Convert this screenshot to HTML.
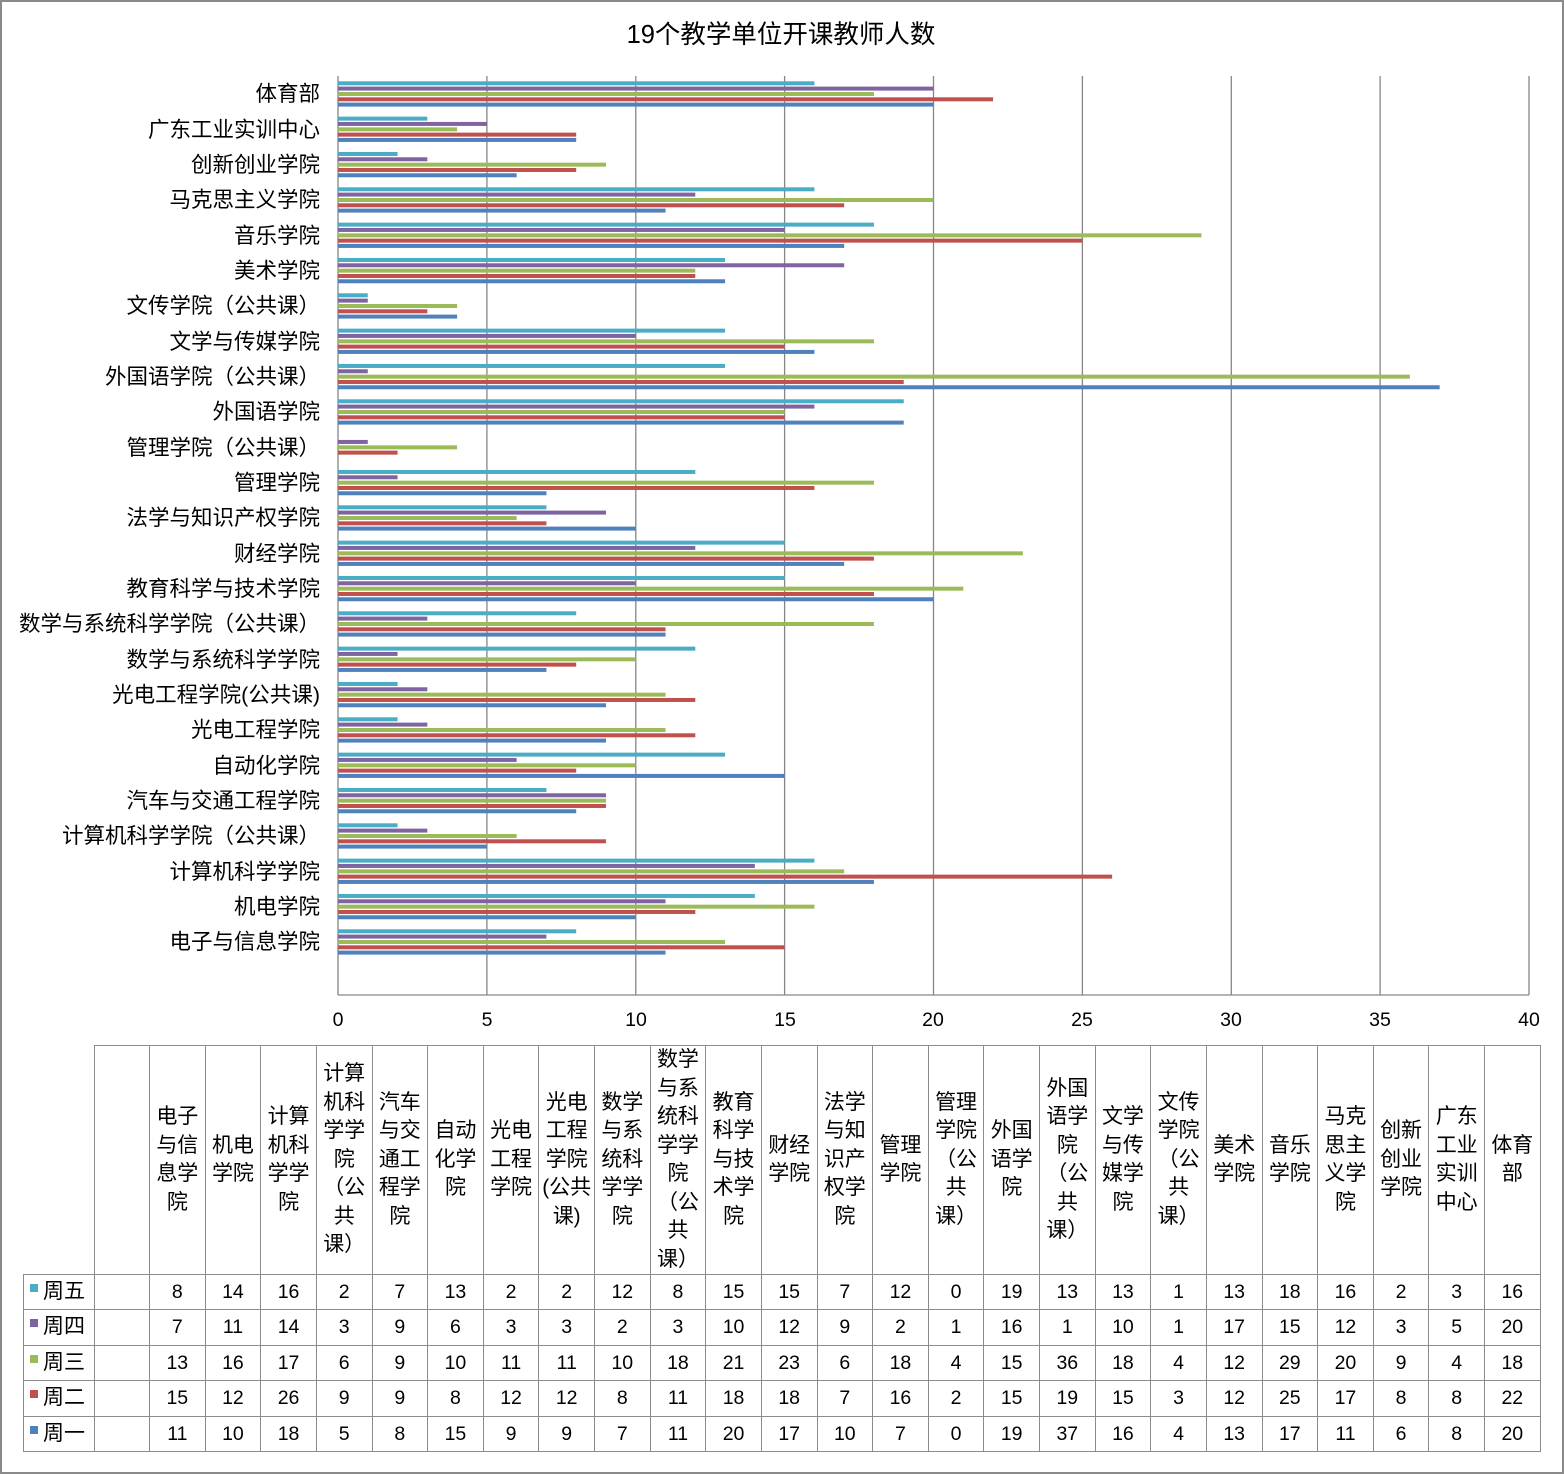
<!DOCTYPE html>
<html><head><meta charset="utf-8"><style>
html,body{margin:0;padding:0;background:#fff}
#wrap{position:relative;width:1564px;height:1474px;box-sizing:border-box;border:2px solid #8a8a8a;overflow:hidden;font-family:"Liberation Sans","Noto Sans CJK SC",sans-serif;color:#000}
svg{position:absolute;left:-2px;top:-2px}
table{position:absolute;left:21px;top:1043px;border-collapse:collapse;table-layout:fixed;width:1517px}
td{border:1px solid #8c8c8c;padding:0;text-align:center;font-size:19.5px;line-height:28.5px;height:34.4px;white-space:nowrap;overflow:hidden}
tr.h td{height:227px;font-size:21px}
td.lg{text-align:left;font-size:21px;padding-left:6px}
td.lg i{display:inline-block;width:8px;height:8px;margin-right:5px;vertical-align:6px}
</style></head><body><div id="wrap">
<svg width="1564" height="1474" xmlns="http://www.w3.org/2000/svg" font-family="Liberation Sans, Noto Sans CJK SC, sans-serif">
<text x="781" y="43" font-size="25.5" text-anchor="middle">19个教学单位开课教师人数</text>
<g stroke="#868686" stroke-width="1.3">
<line x1="486.9" y1="76" x2="486.9" y2="995"/><line x1="635.8" y1="76" x2="635.8" y2="995"/><line x1="784.6" y1="76" x2="784.6" y2="995"/><line x1="933.5" y1="76" x2="933.5" y2="995"/><line x1="1082.4" y1="76" x2="1082.4" y2="995"/><line x1="1231.3" y1="76" x2="1231.3" y2="995"/><line x1="1380.1" y1="76" x2="1380.1" y2="995"/><line x1="1529" y1="76" x2="1529" y2="995"/>
<line x1="338" y1="76" x2="338" y2="995"/><line x1="338" y1="995" x2="1529" y2="995"/>
</g>
<g font-size="19.5" text-anchor="middle">
<text x="338" y="1026">0</text><text x="487" y="1026">5</text><text x="636" y="1026">10</text><text x="785" y="1026">15</text><text x="933" y="1026">20</text><text x="1082" y="1026">25</text><text x="1231" y="1026">30</text><text x="1380" y="1026">35</text><text x="1529" y="1026">40</text>
</g>
<g font-size="21.5" text-anchor="end">
<text x="320" y="101">体育部</text>
<text x="320" y="137">广东工业实训中心</text>
<text x="320" y="172">创新创业学院</text>
<text x="320" y="207">马克思主义学院</text>
<text x="320" y="243">音乐学院</text>
<text x="320" y="278">美术学院</text>
<text x="320" y="313">文传学院（公共课）</text>
<text x="320" y="349">文学与传媒学院</text>
<text x="320" y="384">外国语学院（公共课）</text>
<text x="320" y="419">外国语学院</text>
<text x="320" y="455">管理学院（公共课）</text>
<text x="320" y="490">管理学院</text>
<text x="320" y="525">法学与知识产权学院</text>
<text x="320" y="561">财经学院</text>
<text x="320" y="596">教育科学与技术学院</text>
<text x="320" y="631">数学与系统科学学院（公共课）</text>
<text x="320" y="667">数学与系统科学学院</text>
<text x="320" y="702">光电工程学院(公共课)</text>
<text x="320" y="737">光电工程学院</text>
<text x="320" y="773">自动化学院</text>
<text x="320" y="808">汽车与交通工程学院</text>
<text x="320" y="843">计算机科学学院（公共课）</text>
<text x="320" y="879">计算机科学学院</text>
<text x="320" y="914">机电学院</text>
<text x="320" y="949">电子与信息学院</text>
</g>
<g id="bars">
<g transform="translate(338,76) scale(29.775 1)"><rect y="5.3" width="16" height="4" fill="#4bacc6"/><rect y="10.6" width="20" height="4" fill="#8064a2"/><rect y="16" width="18" height="4" fill="#9bbb59"/><rect y="21.3" width="22" height="4" fill="#c0504d"/><rect y="26.6" width="20" height="4" fill="#4f81bd"/></g>
<g transform="translate(338,111.33) scale(29.775 1)"><rect y="5.3" width="3" height="4" fill="#4bacc6"/><rect y="10.6" width="5" height="4" fill="#8064a2"/><rect y="16" width="4" height="4" fill="#9bbb59"/><rect y="21.3" width="8" height="4" fill="#c0504d"/><rect y="26.6" width="8" height="4" fill="#4f81bd"/></g>
<g transform="translate(338,146.67) scale(29.775 1)"><rect y="5.3" width="2" height="4" fill="#4bacc6"/><rect y="10.6" width="3" height="4" fill="#8064a2"/><rect y="16" width="9" height="4" fill="#9bbb59"/><rect y="21.3" width="8" height="4" fill="#c0504d"/><rect y="26.6" width="6" height="4" fill="#4f81bd"/></g>
<g transform="translate(338,182) scale(29.775 1)"><rect y="5.3" width="16" height="4" fill="#4bacc6"/><rect y="10.6" width="12" height="4" fill="#8064a2"/><rect y="16" width="20" height="4" fill="#9bbb59"/><rect y="21.3" width="17" height="4" fill="#c0504d"/><rect y="26.6" width="11" height="4" fill="#4f81bd"/></g>
<g transform="translate(338,217.33) scale(29.775 1)"><rect y="5.3" width="18" height="4" fill="#4bacc6"/><rect y="10.6" width="15" height="4" fill="#8064a2"/><rect y="16" width="29" height="4" fill="#9bbb59"/><rect y="21.3" width="25" height="4" fill="#c0504d"/><rect y="26.6" width="17" height="4" fill="#4f81bd"/></g>
<g transform="translate(338,252.67) scale(29.775 1)"><rect y="5.3" width="13" height="4" fill="#4bacc6"/><rect y="10.6" width="17" height="4" fill="#8064a2"/><rect y="16" width="12" height="4" fill="#9bbb59"/><rect y="21.3" width="12" height="4" fill="#c0504d"/><rect y="26.6" width="13" height="4" fill="#4f81bd"/></g>
<g transform="translate(338,288) scale(29.775 1)"><rect y="5.3" width="1" height="4" fill="#4bacc6"/><rect y="10.6" width="1" height="4" fill="#8064a2"/><rect y="16" width="4" height="4" fill="#9bbb59"/><rect y="21.3" width="3" height="4" fill="#c0504d"/><rect y="26.6" width="4" height="4" fill="#4f81bd"/></g>
<g transform="translate(338,323.33) scale(29.775 1)"><rect y="5.3" width="13" height="4" fill="#4bacc6"/><rect y="10.6" width="10" height="4" fill="#8064a2"/><rect y="16" width="18" height="4" fill="#9bbb59"/><rect y="21.3" width="15" height="4" fill="#c0504d"/><rect y="26.6" width="16" height="4" fill="#4f81bd"/></g>
<g transform="translate(338,358.67) scale(29.775 1)"><rect y="5.3" width="13" height="4" fill="#4bacc6"/><rect y="10.6" width="1" height="4" fill="#8064a2"/><rect y="16" width="36" height="4" fill="#9bbb59"/><rect y="21.3" width="19" height="4" fill="#c0504d"/><rect y="26.6" width="37" height="4" fill="#4f81bd"/></g>
<g transform="translate(338,394) scale(29.775 1)"><rect y="5.3" width="19" height="4" fill="#4bacc6"/><rect y="10.6" width="16" height="4" fill="#8064a2"/><rect y="16" width="15" height="4" fill="#9bbb59"/><rect y="21.3" width="15" height="4" fill="#c0504d"/><rect y="26.6" width="19" height="4" fill="#4f81bd"/></g>
<g transform="translate(338,429.33) scale(29.775 1)"><rect y="10.6" width="1" height="4" fill="#8064a2"/><rect y="16" width="4" height="4" fill="#9bbb59"/><rect y="21.3" width="2" height="4" fill="#c0504d"/></g>
<g transform="translate(338,464.67) scale(29.775 1)"><rect y="5.3" width="12" height="4" fill="#4bacc6"/><rect y="10.6" width="2" height="4" fill="#8064a2"/><rect y="16" width="18" height="4" fill="#9bbb59"/><rect y="21.3" width="16" height="4" fill="#c0504d"/><rect y="26.6" width="7" height="4" fill="#4f81bd"/></g>
<g transform="translate(338,500) scale(29.775 1)"><rect y="5.3" width="7" height="4" fill="#4bacc6"/><rect y="10.6" width="9" height="4" fill="#8064a2"/><rect y="16" width="6" height="4" fill="#9bbb59"/><rect y="21.3" width="7" height="4" fill="#c0504d"/><rect y="26.6" width="10" height="4" fill="#4f81bd"/></g>
<g transform="translate(338,535.33) scale(29.775 1)"><rect y="5.3" width="15" height="4" fill="#4bacc6"/><rect y="10.6" width="12" height="4" fill="#8064a2"/><rect y="16" width="23" height="4" fill="#9bbb59"/><rect y="21.3" width="18" height="4" fill="#c0504d"/><rect y="26.6" width="17" height="4" fill="#4f81bd"/></g>
<g transform="translate(338,570.67) scale(29.775 1)"><rect y="5.3" width="15" height="4" fill="#4bacc6"/><rect y="10.6" width="10" height="4" fill="#8064a2"/><rect y="16" width="21" height="4" fill="#9bbb59"/><rect y="21.3" width="18" height="4" fill="#c0504d"/><rect y="26.6" width="20" height="4" fill="#4f81bd"/></g>
<g transform="translate(338,606) scale(29.775 1)"><rect y="5.3" width="8" height="4" fill="#4bacc6"/><rect y="10.6" width="3" height="4" fill="#8064a2"/><rect y="16" width="18" height="4" fill="#9bbb59"/><rect y="21.3" width="11" height="4" fill="#c0504d"/><rect y="26.6" width="11" height="4" fill="#4f81bd"/></g>
<g transform="translate(338,641.33) scale(29.775 1)"><rect y="5.3" width="12" height="4" fill="#4bacc6"/><rect y="10.6" width="2" height="4" fill="#8064a2"/><rect y="16" width="10" height="4" fill="#9bbb59"/><rect y="21.3" width="8" height="4" fill="#c0504d"/><rect y="26.6" width="7" height="4" fill="#4f81bd"/></g>
<g transform="translate(338,676.67) scale(29.775 1)"><rect y="5.3" width="2" height="4" fill="#4bacc6"/><rect y="10.6" width="3" height="4" fill="#8064a2"/><rect y="16" width="11" height="4" fill="#9bbb59"/><rect y="21.3" width="12" height="4" fill="#c0504d"/><rect y="26.6" width="9" height="4" fill="#4f81bd"/></g>
<g transform="translate(338,712) scale(29.775 1)"><rect y="5.3" width="2" height="4" fill="#4bacc6"/><rect y="10.6" width="3" height="4" fill="#8064a2"/><rect y="16" width="11" height="4" fill="#9bbb59"/><rect y="21.3" width="12" height="4" fill="#c0504d"/><rect y="26.6" width="9" height="4" fill="#4f81bd"/></g>
<g transform="translate(338,747.33) scale(29.775 1)"><rect y="5.3" width="13" height="4" fill="#4bacc6"/><rect y="10.6" width="6" height="4" fill="#8064a2"/><rect y="16" width="10" height="4" fill="#9bbb59"/><rect y="21.3" width="8" height="4" fill="#c0504d"/><rect y="26.6" width="15" height="4" fill="#4f81bd"/></g>
<g transform="translate(338,782.67) scale(29.775 1)"><rect y="5.3" width="7" height="4" fill="#4bacc6"/><rect y="10.6" width="9" height="4" fill="#8064a2"/><rect y="16" width="9" height="4" fill="#9bbb59"/><rect y="21.3" width="9" height="4" fill="#c0504d"/><rect y="26.6" width="8" height="4" fill="#4f81bd"/></g>
<g transform="translate(338,818) scale(29.775 1)"><rect y="5.3" width="2" height="4" fill="#4bacc6"/><rect y="10.6" width="3" height="4" fill="#8064a2"/><rect y="16" width="6" height="4" fill="#9bbb59"/><rect y="21.3" width="9" height="4" fill="#c0504d"/><rect y="26.6" width="5" height="4" fill="#4f81bd"/></g>
<g transform="translate(338,853.33) scale(29.775 1)"><rect y="5.3" width="16" height="4" fill="#4bacc6"/><rect y="10.6" width="14" height="4" fill="#8064a2"/><rect y="16" width="17" height="4" fill="#9bbb59"/><rect y="21.3" width="26" height="4" fill="#c0504d"/><rect y="26.6" width="18" height="4" fill="#4f81bd"/></g>
<g transform="translate(338,888.67) scale(29.775 1)"><rect y="5.3" width="14" height="4" fill="#4bacc6"/><rect y="10.6" width="11" height="4" fill="#8064a2"/><rect y="16" width="16" height="4" fill="#9bbb59"/><rect y="21.3" width="12" height="4" fill="#c0504d"/><rect y="26.6" width="10" height="4" fill="#4f81bd"/></g>
<g transform="translate(338,924) scale(29.775 1)"><rect y="5.3" width="8" height="4" fill="#4bacc6"/><rect y="10.6" width="7" height="4" fill="#8064a2"/><rect y="16" width="13" height="4" fill="#9bbb59"/><rect y="21.3" width="15" height="4" fill="#c0504d"/><rect y="26.6" width="11" height="4" fill="#4f81bd"/></g>
</g>
</svg>
<table>
<colgroup><col style="width:71px"><col style="width:55px"><col span="25" style="width:55.64px"></colgroup>
<tr class="h"><td style="border-top:none;border-left:none"></td><td></td>
<td>电子<br>与信<br>息学<br>院</td><td>机电<br>学院</td><td>计算<br>机科<br>学学<br>院</td><td>计算<br>机科<br>学学<br>院<br>（公<br>共<br>课）</td><td>汽车<br>与交<br>通工<br>程学<br>院</td><td>自动<br>化学<br>院</td><td>光电<br>工程<br>学院</td><td>光电<br>工程<br>学院<br>(公共<br>课)</td><td>数学<br>与系<br>统科<br>学学<br>院</td><td>数学<br>与系<br>统科<br>学学<br>院<br>（公<br>共<br>课）</td><td>教育<br>科学<br>与技<br>术学<br>院</td><td>财经<br>学院</td><td>法学<br>与知<br>识产<br>权学<br>院</td><td>管理<br>学院</td><td>管理<br>学院<br>（公<br>共<br>课）</td><td>外国<br>语学<br>院</td><td>外国<br>语学<br>院<br>（公<br>共<br>课）</td><td>文学<br>与传<br>媒学<br>院</td><td>文传<br>学院<br>（公<br>共<br>课）</td><td>美术<br>学院</td><td>音乐<br>学院</td><td>马克<br>思主<br>义学<br>院</td><td>创新<br>创业<br>学院</td><td>广东<br>工业<br>实训<br>中心</td><td>体育<br>部</td></tr>
<tr><td class="lg"><i style="background:#4bacc6"></i>周五</td><td></td><td>8</td><td>14</td><td>16</td><td>2</td><td>7</td><td>13</td><td>2</td><td>2</td><td>12</td><td>8</td><td>15</td><td>15</td><td>7</td><td>12</td><td>0</td><td>19</td><td>13</td><td>13</td><td>1</td><td>13</td><td>18</td><td>16</td><td>2</td><td>3</td><td>16</td></tr>
<tr><td class="lg"><i style="background:#8064a2"></i>周四</td><td></td><td>7</td><td>11</td><td>14</td><td>3</td><td>9</td><td>6</td><td>3</td><td>3</td><td>2</td><td>3</td><td>10</td><td>12</td><td>9</td><td>2</td><td>1</td><td>16</td><td>1</td><td>10</td><td>1</td><td>17</td><td>15</td><td>12</td><td>3</td><td>5</td><td>20</td></tr>
<tr><td class="lg"><i style="background:#9bbb59"></i>周三</td><td></td><td>13</td><td>16</td><td>17</td><td>6</td><td>9</td><td>10</td><td>11</td><td>11</td><td>10</td><td>18</td><td>21</td><td>23</td><td>6</td><td>18</td><td>4</td><td>15</td><td>36</td><td>18</td><td>4</td><td>12</td><td>29</td><td>20</td><td>9</td><td>4</td><td>18</td></tr>
<tr><td class="lg"><i style="background:#c0504d"></i>周二</td><td></td><td>15</td><td>12</td><td>26</td><td>9</td><td>9</td><td>8</td><td>12</td><td>12</td><td>8</td><td>11</td><td>18</td><td>18</td><td>7</td><td>16</td><td>2</td><td>15</td><td>19</td><td>15</td><td>3</td><td>12</td><td>25</td><td>17</td><td>8</td><td>8</td><td>22</td></tr>
<tr><td class="lg"><i style="background:#4f81bd"></i>周一</td><td></td><td>11</td><td>10</td><td>18</td><td>5</td><td>8</td><td>15</td><td>9</td><td>9</td><td>7</td><td>11</td><td>20</td><td>17</td><td>10</td><td>7</td><td>0</td><td>19</td><td>37</td><td>16</td><td>4</td><td>13</td><td>17</td><td>11</td><td>6</td><td>8</td><td>20</td></tr>
</table>
</div></body></html>
